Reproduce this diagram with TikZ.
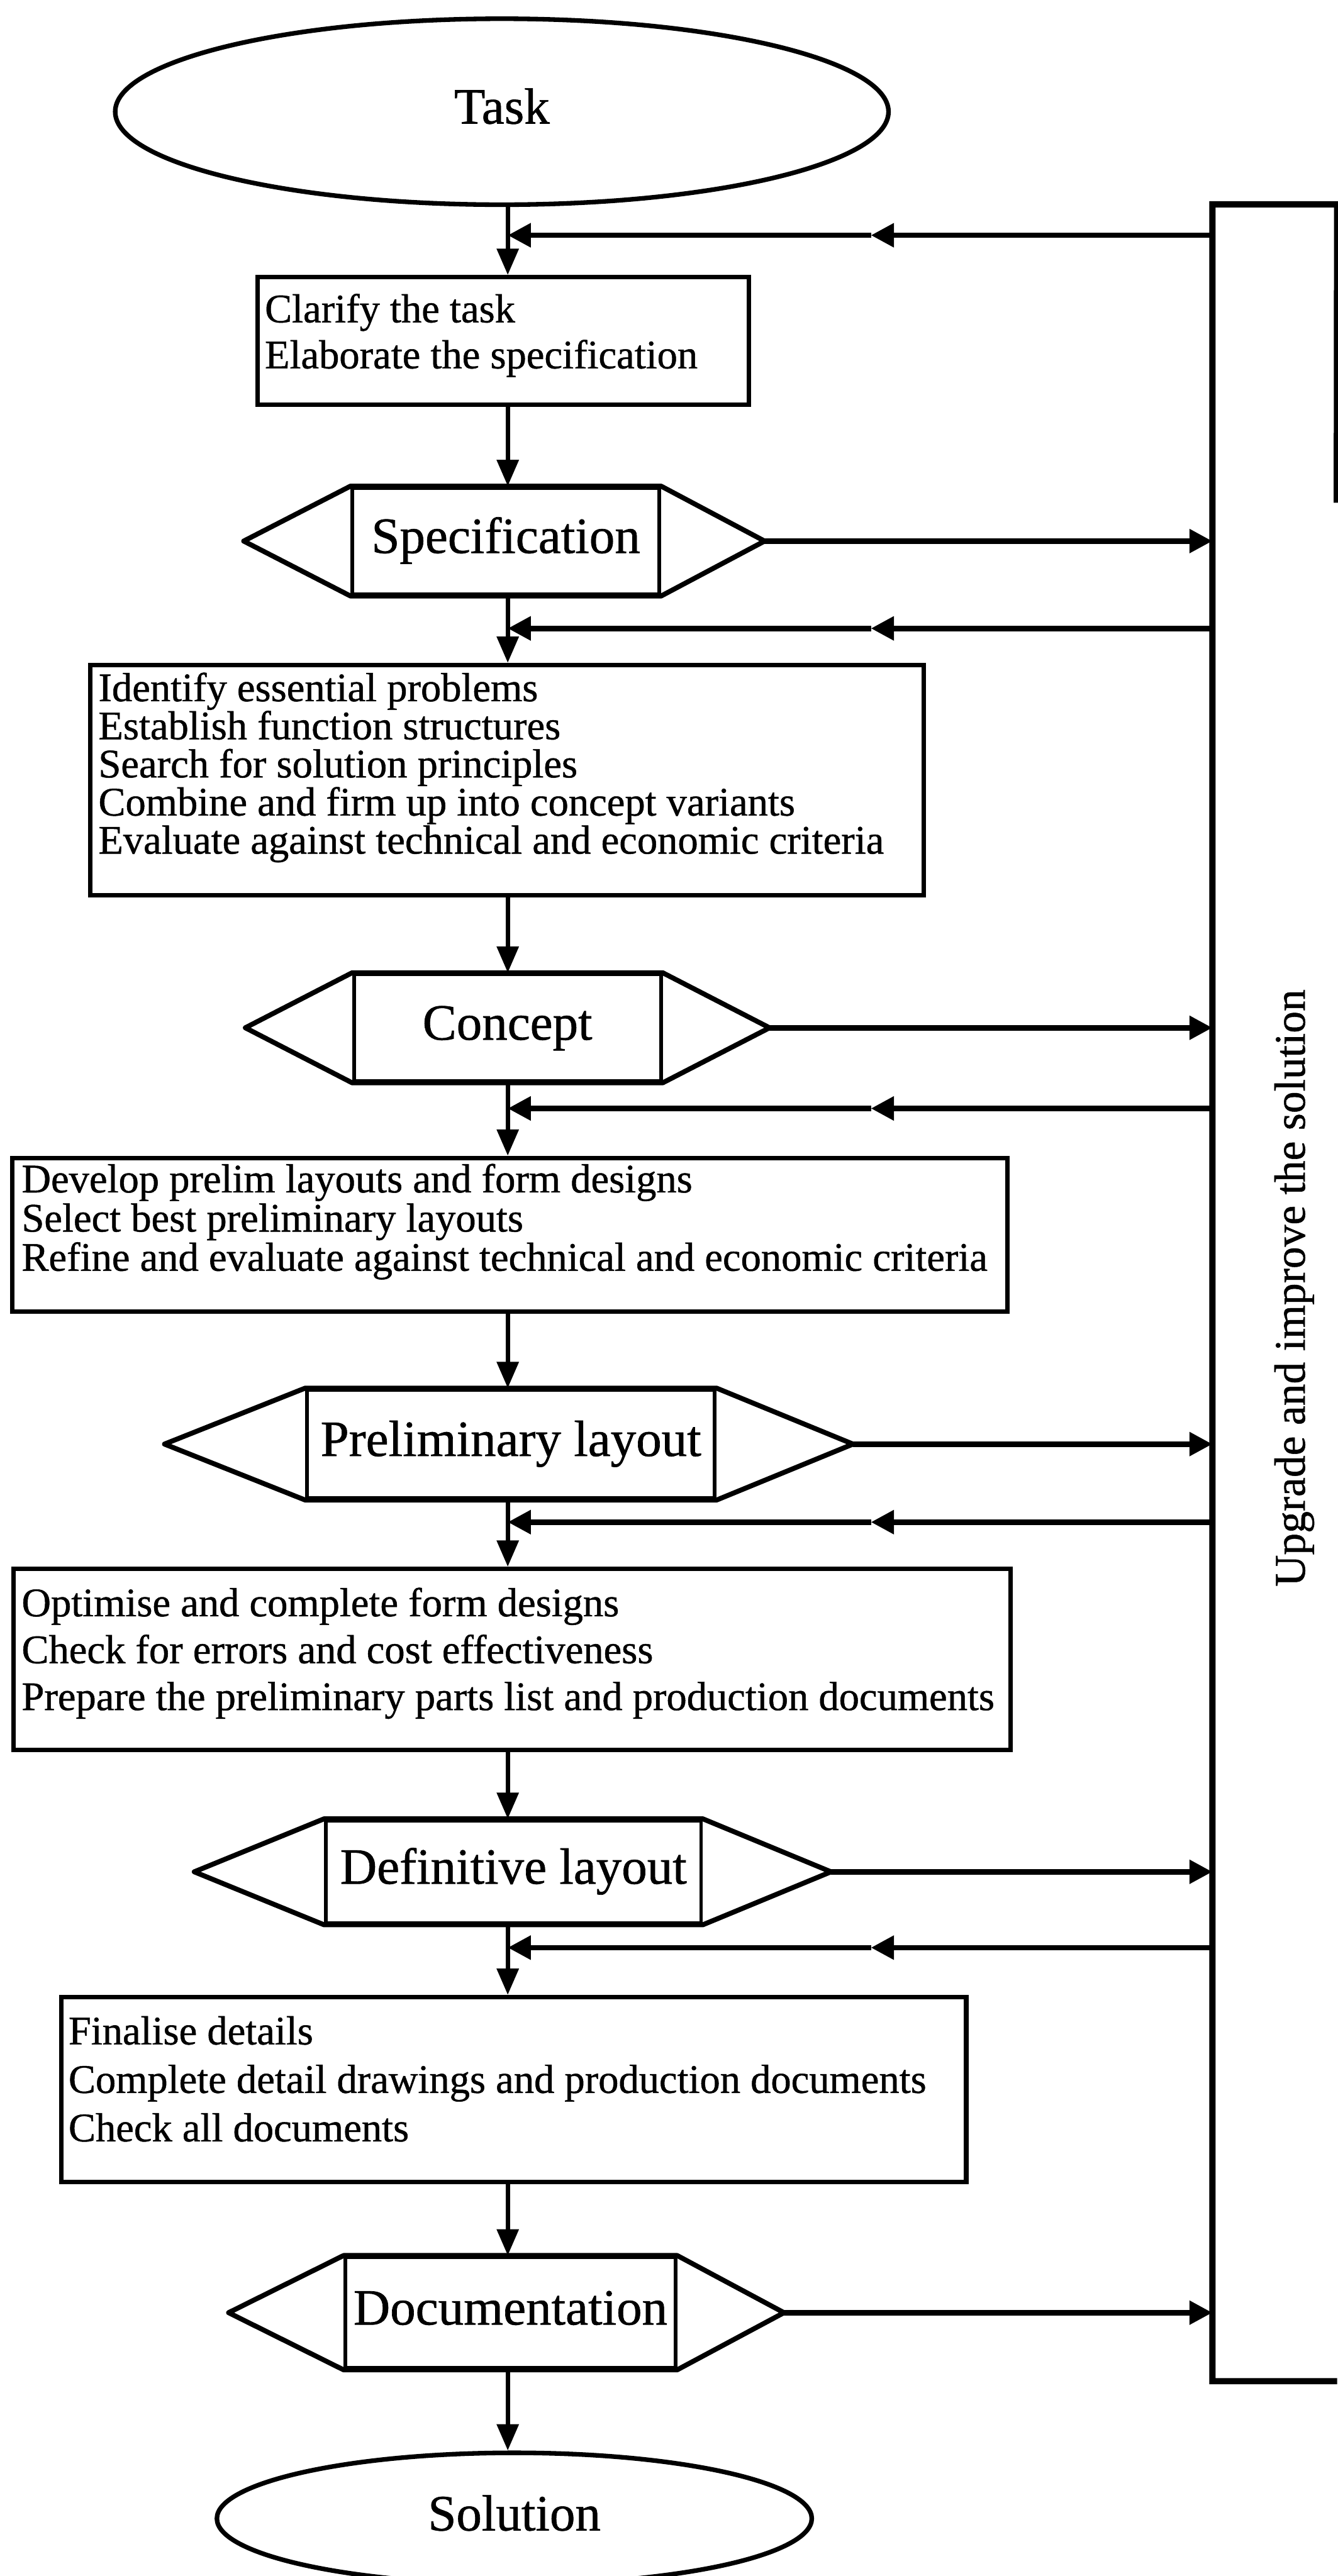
\documentclass[tikz,border=0pt]{standalone}
\usepackage{fontspec}
\setmainfont{Liberation Serif}[FakeBold=0.8]
\usetikzlibrary{shapes.geometric,arrows.meta,calc}

\begin{document}
\begin{tikzpicture}[x=1pt,y=-1pt,
  conn/.style={line width=2.6pt,-{Triangle[length=16pt,width=13pt]}},
  fbline/.style={line width=3.3pt,-{Triangle[length=14pt,width=14pt]}},
  barline/.style={line width=3.8pt,line join=miter},
  boxnode/.style={draw,rectangle,line width=2.7pt,inner sep=0pt},
  boxtext/.style={inner sep=0pt,anchor=north west,align=left,
    font=\fontsize{24.7pt}{#1}\selectfont},
  hexin/.style={draw,rectangle,line width=2.2pt,inner sep=0pt,
    font=\fontsize{31pt}{37pt}\selectfont,text height=21.2pt,text depth=6.7pt},
  hexline/.style={line width=3pt,line join=round},
  term/.style={draw,ellipse,line width=2.8pt,inner sep=0pt,
    font=\fontsize{31pt}{37pt}\selectfont,text height=21.2pt,text depth=6.7pt},
  vlabel/.style={inner sep=0pt,font=\fontsize{26.6pt}{32pt}\selectfont}
]
\useasboundingbox (0,0) rectangle (814,1568);

% common vertical axis of the main flow
\coordinate (ax) at (309,0);

% start and end terminals
\node[term,minimum width=470.6pt,minimum height=113.2pt] (task) at (305.4,68) {Task};
\node[term,minimum width=362pt,minimum height=80pt] (solution) at (313,1533) {Solution};

% working-step boxes
\node[boxnode,minimum width=299pt,minimum height=77.8pt] (box1) at (306.2,207.6) {};
\node[boxtext=28pt] (box1txt) at (161,178)
  {\rule{0pt}{18pt}Clarify the task\\Elaborate the specification};

\node[boxnode,minimum width=507pt,minimum height=140.2pt] (box2) at (308.5,474.9) {};
\node[boxtext=23.2pt] (box2txt) at (59.7,408.6)
  {\rule{0pt}{18pt}Identify essential problems\\
   Establish function structures\\
   Search for solution principles\\
   Combine and firm up into concept variants\\
   Evaluate against technical and economic criteria};

\node[boxnode,minimum width=605.7pt,minimum height=93.4pt] (box3) at (310.15,751.5) {};
\node[boxtext=23.85pt] (box3txt) at (13,707.6)
  {\rule{0pt}{18pt}Develop prelim layouts and form designs\\
   Select best preliminary layouts\\
   Refine and evaluate against technical and economic criteria};

\node[boxnode,minimum width=606.7pt,minimum height=110pt] (box4) at (311.65,1010) {};
\node[boxtext=28.55pt] (box4txt) at (13,965.6)
  {\rule{0pt}{18pt}Optimise and complete form designs\\
   Check for errors and cost effectiveness\\
   Prepare the preliminary parts list and production documents};

\node[boxnode,minimum width=550.6pt,minimum height=112.6pt] (box5) at (312.7,1271.9) {};
\node[boxtext=29.5pt] (box5txt) at (41.5,1226.2)
  {\rule{0pt}{18pt}Finalise details\\
   Complete detail drawings and production documents\\
   Check all documents};

% result hexagons: inner rectangle carries the label
\node[hexin,minimum width=186.8pt,minimum height=64.7pt] (spec) at (307.8,329.35) {Specification};
\node[hexin,minimum width=186.8pt,minimum height=64.8pt] (concept) at (308.8,625.6) {Concept};
\node[hexin,minimum width=248.2pt,minimum height=65.9pt] (prelim) at (310.9,879) {Preliminary layout};
\node[hexin,minimum width=228.3pt,minimum height=62.3pt] (defin) at (312.45,1139.35) {Definitive layout};
\node[hexin,minimum width=200.8pt,minimum height=67.4pt] (docu) at (310.6,1407.7) {Documentation};

\coordinate (specL) at ($(spec.west)+(-65,0)$);
\coordinate (specR) at ($(spec.east)+(63,0)$);
\coordinate (conceptL) at ($(concept.west)+(-65,0)$);
\coordinate (conceptR) at ($(concept.east)+(65,0)$);
\coordinate (prelimL) at ($(prelim.west)+(-85.6,0)$);
\coordinate (prelimR) at ($(prelim.east)+(83,0)$);
\coordinate (definL) at ($(defin.west)+(-79,0)$);
\coordinate (definR) at ($(defin.east)+(78,0)$);
\coordinate (docuL) at ($(docu.west)+(-70,0)$);
\coordinate (docuR) at ($(docu.east)+(65,0)$);

\foreach \h in {spec,concept,prelim,defin,docu}{
  \draw[hexline] (\h.north west) -- (\h L) -- (\h.south west) -- (\h.south east)
    -- (\h R) -- (\h.north east) -- cycle;
}

% feedback bar on the right
\node[inner sep=0pt,minimum width=75.5pt,minimum height=1324.6pt] (bar) at (775.75,786.9) {};
\coordinate (barcut) at (813.5,306);
\draw[barline] (barcut) -- (bar.north east) -- (bar.north west) -- (bar.south west) -- (bar.south east);
\node[vlabel,rotate=90,anchor=base] (upgrade) at (794,784) {Upgrade and improve the solution};

% main flow
\draw[conn] (task.south -| ax) -- (box1.north -| ax);
\draw[conn] (box1.south -| ax) -- (spec.north -| ax);
\draw[conn] (spec.south -| ax) -- (box2.north -| ax);
\draw[conn] (box2.south -| ax) -- (concept.north -| ax);
\draw[conn] (concept.south -| ax) -- (box3.north -| ax);
\draw[conn] (box3.south -| ax) -- (prelim.north -| ax);
\draw[conn] (prelim.south -| ax) -- (box4.north -| ax);
\draw[conn] (box4.south -| ax) -- (defin.north -| ax);
\draw[conn] (defin.south -| ax) -- (box5.north -| ax);
\draw[conn] (box5.south -| ax) -- (docu.north -| ax);
\draw[conn] (docu.south -| ax) -- (solution.north -| ax);

% results passed to the bar
\foreach \h in {spec,concept,prelim,defin,docu}{
  \draw[fbline] (\h R) -- (\h R -| bar.west);
}

% feedback returned into the flow
\foreach \n/\y in {1/143.2,2/382.5,3/674.7,4/926.5,5/1185.5}{
  \coordinate (fb\n) at (309,\y);
  \coordinate (fb\n m) at (530,\y);
  \draw[fbline] (bar.west |- fb\n) -- (fb\n m);
  \draw[fbline] (fb\n m) -- (fb\n);
}
\end{tikzpicture}
\end{document}
